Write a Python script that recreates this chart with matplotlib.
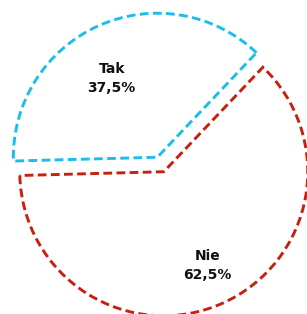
import matplotlib.pyplot as plt
import numpy as np

labels = ['Tak', 'Nie']
values = [37.5, 62.5]
colors = ['#1BBDEB', '#C8200F']

fig = plt.figure(figsize=(3.07, 3.14), dpi=100)
ax = fig.add_axes([0, 0, 1, 1])

wedges, texts = ax.pie(values, labels=labels, startangle=46.5,
                       explode=[0.055, 0.055], labeldistance=0.62,
                       wedgeprops=dict(fill=False, linewidth=2.1,
                                       linestyle=(0, (3.0, 1.5))))
for w, c in zip(wedges, colors):
    w.set_edgecolor(c)
    w.set_joinstyle('miter')

# labels with percentage on the second line
shift = [(-0.065, -0.02), (0.05, -0.085)]
for t, lab, v, (dx, dy) in zip(texts, labels, values, shift):
    x, y = t.get_position()
    t.set_position((x + dx, y + dy))
    t.set_text(f"{lab}\n{v:.1f}%".replace('.', ','))
    t.set_ha('center')
    t.set_va('center')
    t.set_fontsize(10)
    t.set_fontweight('bold')
    t.set_linespacing(1.45)
    t.set_color('#111111')

ax.set_xlim(-1.115, 1.017)
ax.set_ylim(-1.038, 1.142)
ax.set_aspect('auto')
ax.axis('off')

fig.savefig('out.png', dpi=100)
